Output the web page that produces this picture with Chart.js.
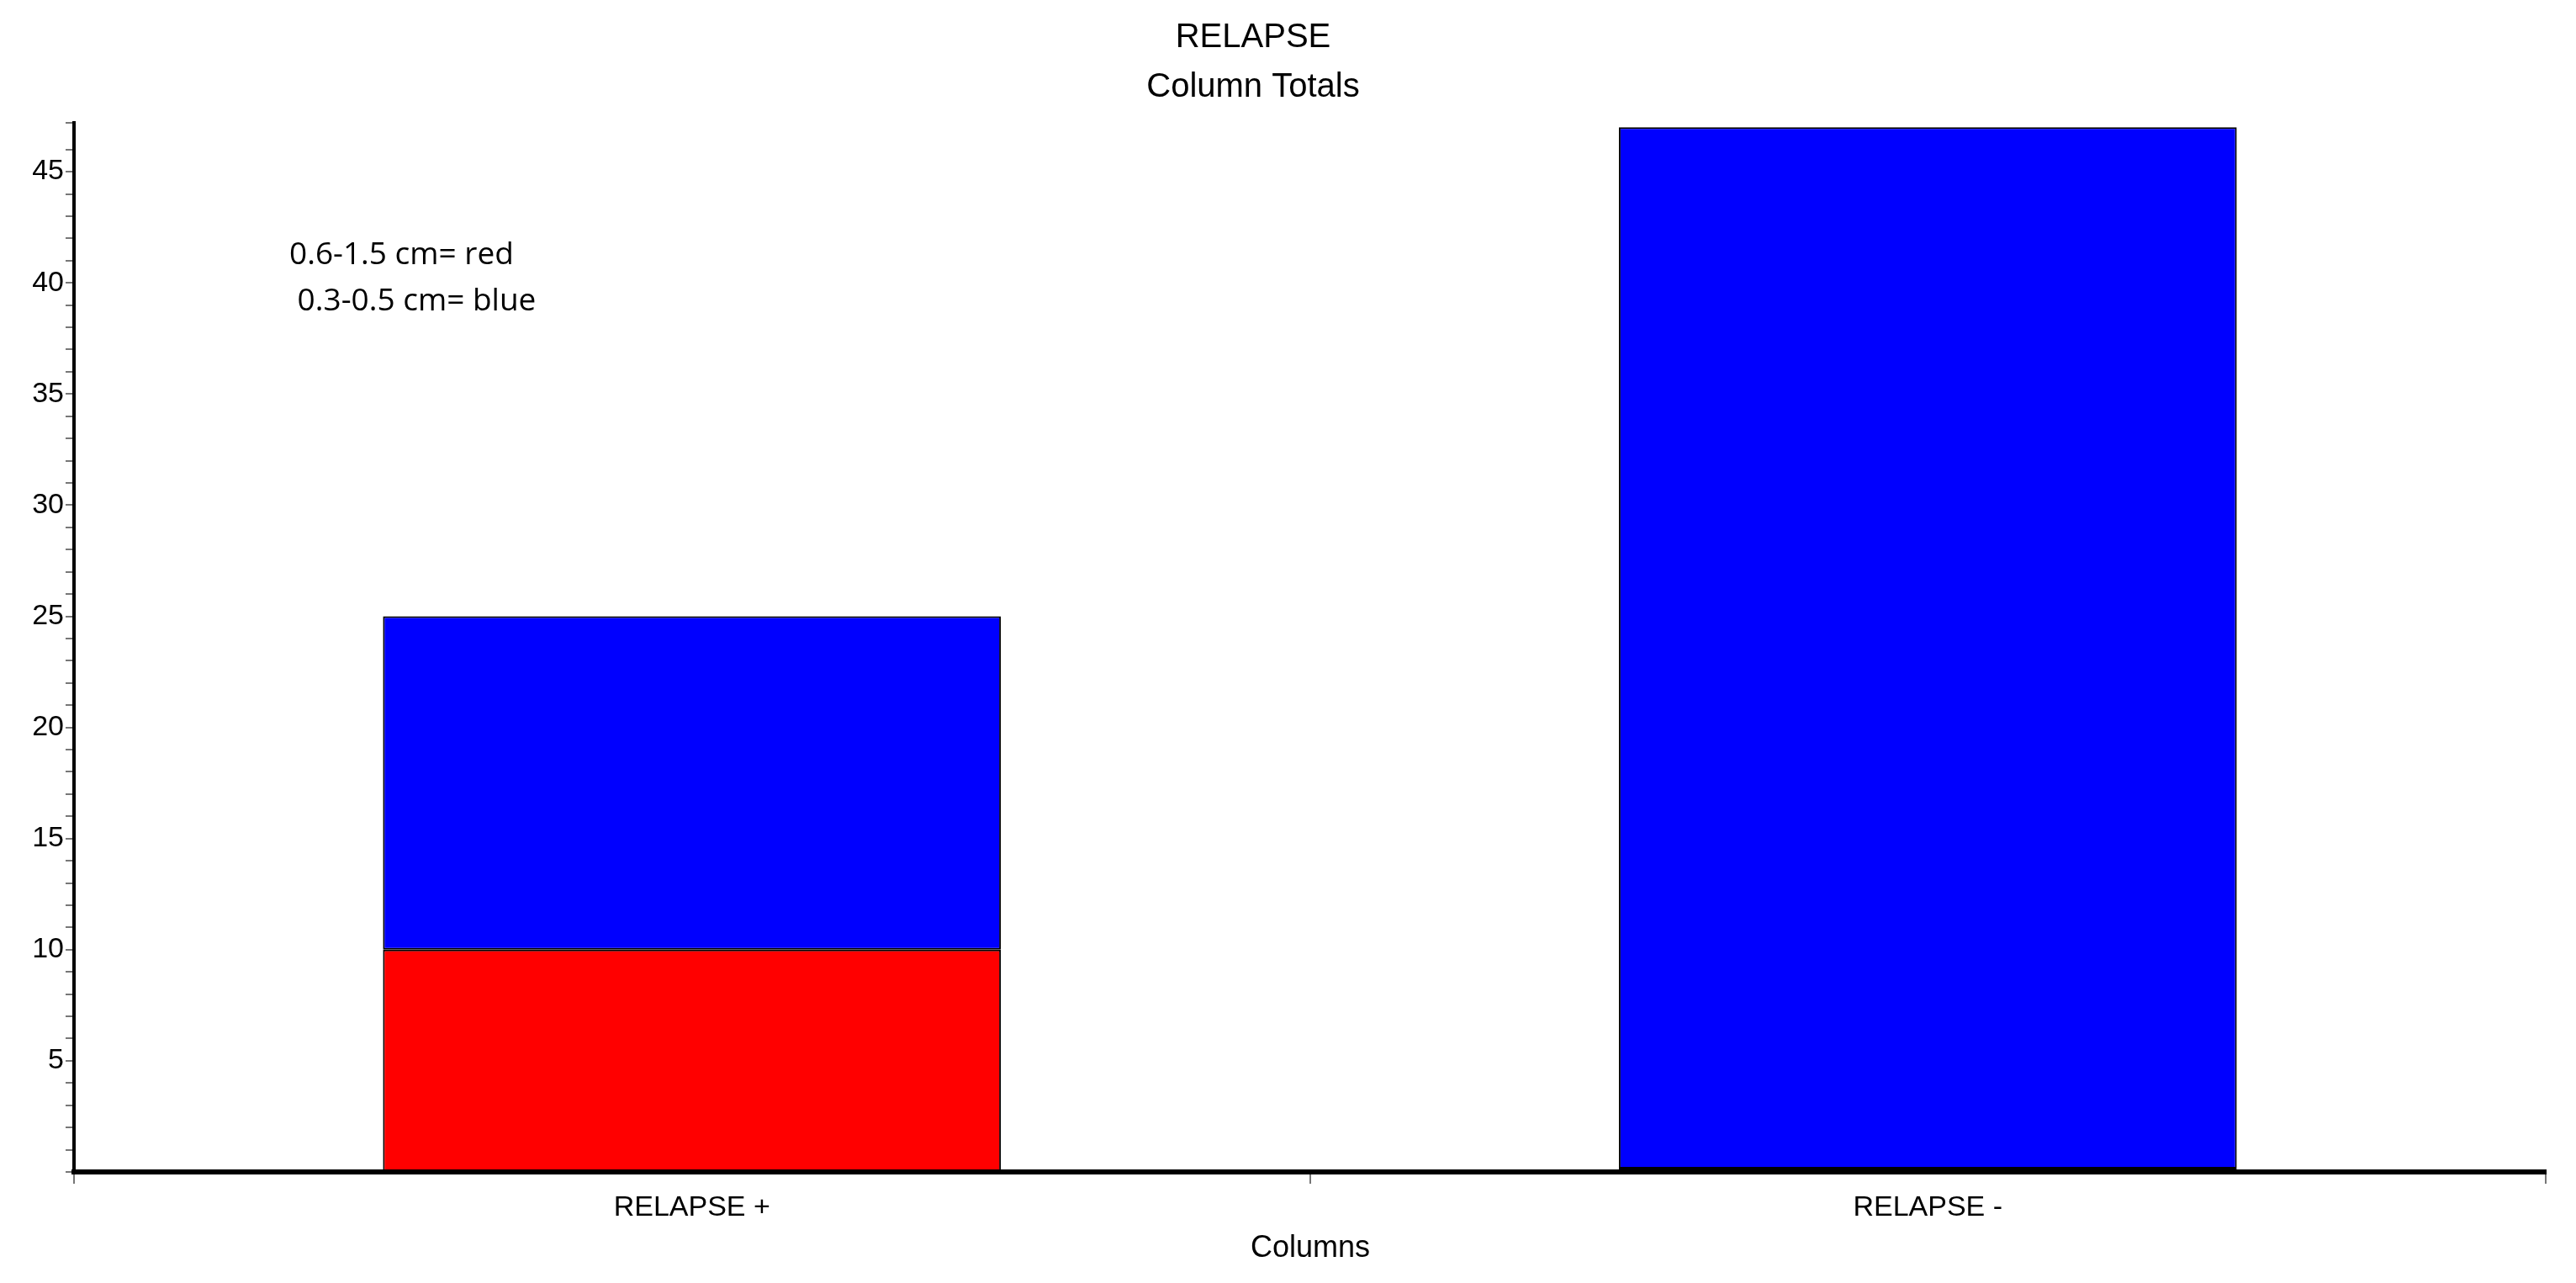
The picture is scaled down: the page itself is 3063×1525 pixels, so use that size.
<!DOCTYPE html>
<html><head><meta charset="utf-8">
<script src="https://cdn.jsdelivr.net/npm/chart.js@4"></script>
<style>html,body{margin:0;padding:0;background:#fff}#w{width:3063px;height:1525px}</style>
</head><body><div id="w"><canvas id="c"></canvas></div>
<script>
const categories = ['RELAPSE +', 'RELAPSE -'];
const redValues = [10, 0.15];
const blueValues = [15, 46.85];
const yTickLabels = [5, 10, 15, 20, 25, 30, 35, 40, 45];
const titleLines = ['RELAPSE', 'Column Totals'];
const noteLines = ['0.6-1.5 cm= red', ' 0.3-0.5 cm= blue'];
const xTitle = 'Columns';

const textPlugin = {
  id: 'texts',
  afterDraw(chart) {
    const ctx = chart.ctx;
    ctx.save();
    ctx.fillStyle = '#000';
    ctx.textAlign = 'center';
    ctx.textBaseline = 'middle';
    ctx.font = '40px "Liberation Sans", Arial';
    ctx.fillText(titleLines[0], 1490, 45);
    ctx.fillText(titleLines[1], 1490, 104);
    ctx.font = '36px "Liberation Sans", Arial';
    ctx.fillText(xTitle, 1558, 1484);
    ctx.textAlign = 'left';
    ctx.font = '37px "Open Sans", sans-serif';
    ctx.fillText(noteLines[0], 344, 303);
    ctx.fillText(noteLines[1], 344, 358);
    ctx.restore();
  }
};

new Chart(document.getElementById('c'), {
  type: 'bar',
  data: {
    labels: categories,
    datasets: [
      {label: 'red', data: redValues, backgroundColor: '#ff0000', borderColor: '#000', borderWidth: 2, borderSkipped: false, barPercentage: 0.5, categoryPercentage: 1},
      {label: 'blue', data: blueValues, backgroundColor: '#0000ff', borderColor: '#000', borderWidth: 2, borderSkipped: false, barPercentage: 0.5, categoryPercentage: 1}
    ]
  },
  options: {
    responsive: true, maintainAspectRatio: false, animation: false, devicePixelRatio: 1,
    layout: {padding: {top: 146, right: 36, left: 0, bottom: 0}},
    plugins: {legend: {display: false}, tooltip: {enabled: false}, title: {display: false}},
    scales: {
      x: {
        stacked: true,
        afterFit(s) { s.height = 132; },
        grid: {display: true, drawOnChartArea: false, offset: true, tickLength: 14, color: '#777', lineWidth: 2},
        border: {color: '#000', width: 6},
        ticks: {color: '#000', font: {size: 34, family: '"Liberation Sans", Arial'}, padding: 8}
      },
      y: {
        stacked: true, min: 0, max: 47.2,
        afterFit(s) { s.width = 88; },
        grid: {display: true, drawOnChartArea: false, tickLength: 10, color: '#777', lineWidth: 2},
        border: {color: '#000', width: 4},
        ticks: {stepSize: 1, autoSkip: false, color: '#000', padding: 2,
          font: {size: 34, family: '"Liberation Sans", Arial'},
          callback: v => (yTickLabels.includes(v) ? String(v) : '')}
      }
    }
  },
  plugins: [textPlugin]
});
</script></body></html>
